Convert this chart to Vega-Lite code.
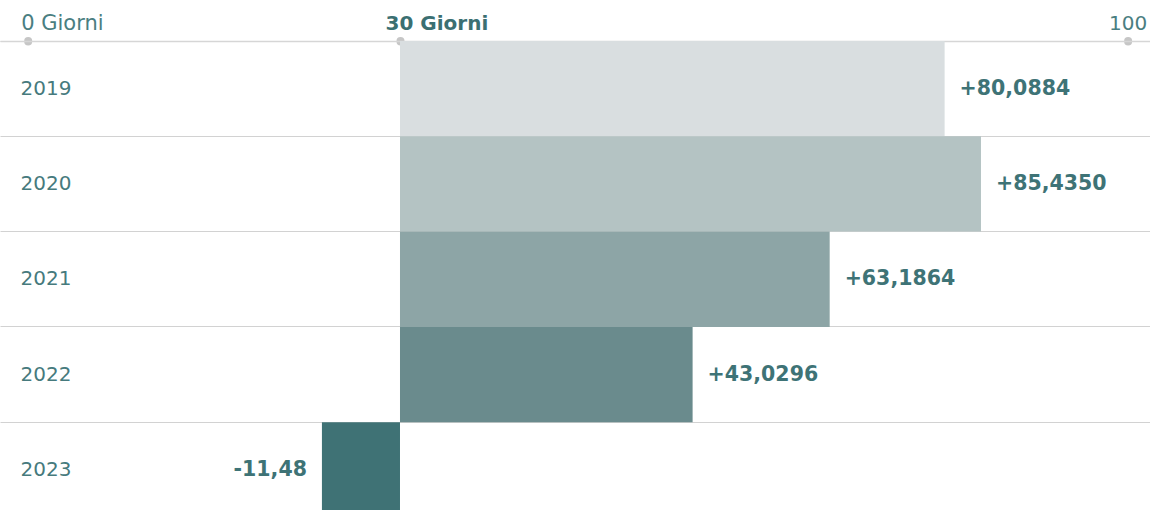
{
  "$schema": "https://vega.github.io/schema/vega-lite/v6.json",
  "width": 1150,
  "height": 469,
  "autosize": {"type": "none"},
  "padding": {"top": 41, "left": 0, "right": 0, "bottom": 0},
  "background": "white",
  "config": {"view": {"stroke": null}, "font": "DejaVu Sans"},
  "data": {
    "values": [
      {"year": "2019", "value": 80.0884, "label": "+80,0884"},
      {"year": "2020", "value": 85.435, "label": "+85,4350"},
      {"year": "2021", "value": 63.1864, "label": "+63,1864"},
      {"year": "2022", "value": 43.0296, "label": "+43,0296"},
      {"year": "2023", "value": -11.48, "label": "-11,48"}
    ]
  },
  "encoding": {
    "y": {
      "field": "year",
      "type": "nominal",
      "sort": null,
      "scale": {"range": [0, 476.5], "paddingInner": 0, "paddingOuter": 0},
      "axis": {
        "orient": "left",
        "title": null,
        "domain": false,
        "ticks": false,
        "grid": true,
        "bandPosition": 0,
        "gridColor": "#d2d2d2",
        "gridWidth": 1,
        "labelAlign": "left",
        "labelBaseline": "middle",
        "labelPadding": -20,
        "labelFontSize": 20,
        "labelFont": "DejaVu Sans",
        "labelColor": "#467a7d"
      }
    }
  },
  "layer": [
    {
      "mark": {"type": "bar"},
      "encoding": {
        "x": {
          "field": "value",
          "type": "quantitative",
          "scale": {"domain": [-58.82, 110.29], "nice": false, "zero": false},
          "axis": {
            "orient": "top",
            "title": null,
            "grid": false,
            "values": [-54.75, 0, 107],
            "labelExpr": "datum.value == 0 ? '30 Giorni' : (datum.value < 0 ? '0 Giorni' : '100')",
            "domainColor": "#d6d6d6",
            "domainWidth": 1.5,
            "ticks": true,
            "tickSize": 0.5,
            "tickWidth": 8,
            "tickCap": "round",
            "tickColor": "#c6c6c6",
            "tickRound": false,
            "labelFontSize": {"condition": {"test": "datum.value < 0", "value": 21}, "value": 20},
            "labelFont": "DejaVu Sans",
            "labelBaseline": "alphabetic",
            "labelPadding": 11.5,
            "labelFlush": false,
            "labelBound": false,
            "labelOverlap": false,
            "labelAlign": {"condition": {"test": "datum.value > 100", "value": "center"}, "value": "left"},
            "labelOffset": {"condition": [{"test": "datum.value == 0", "value": -15}, {"test": "datum.value > 100", "value": 0}], "value": -7},
            "labelFontWeight": {"condition": {"test": "datum.value == 0", "value": "bold"}, "value": "normal"},
            "labelColor": {"condition": {"test": "datum.value == 0", "value": "#3b6f72"}, "value": "#4a7e81"}
          }
        },
        "color": {
          "field": "year",
          "type": "nominal",
          "legend": null,
          "scale": {
            "domain": ["2019", "2020", "2021", "2022", "2023"],
            "range": ["#d9dee0", "#b4c3c3", "#8da5a6", "#6a8b8d", "#3f7275"]
          }
        }
      }
    },
    {
      "mark": {"type": "rule", "color": "#a8a8a8", "strokeDash": [2, 2], "strokeWidth": 1},
      "encoding": {"x": {"datum": 0, "type": "quantitative"}}
    },
    {
      "transform": [{"filter": "datum.value >= 0"}],
      "mark": {"type": "text", "align": "left", "baseline": "middle", "dx": 15, "fontSize": 20.5, "fontWeight": "bold", "font": "DejaVu Sans", "color": "#3e7376"},
      "encoding": {
        "x": {"field": "value", "type": "quantitative"},
        "text": {"field": "label"}
      }
    },
    {
      "transform": [{"filter": "datum.value < 0"}],
      "mark": {"type": "text", "align": "right", "baseline": "middle", "dx": -15, "fontSize": 20.5, "fontWeight": "bold", "font": "DejaVu Sans", "color": "#3e7376"},
      "encoding": {
        "x": {"field": "value", "type": "quantitative"},
        "text": {"field": "label"}
      }
    }
  ]
}
